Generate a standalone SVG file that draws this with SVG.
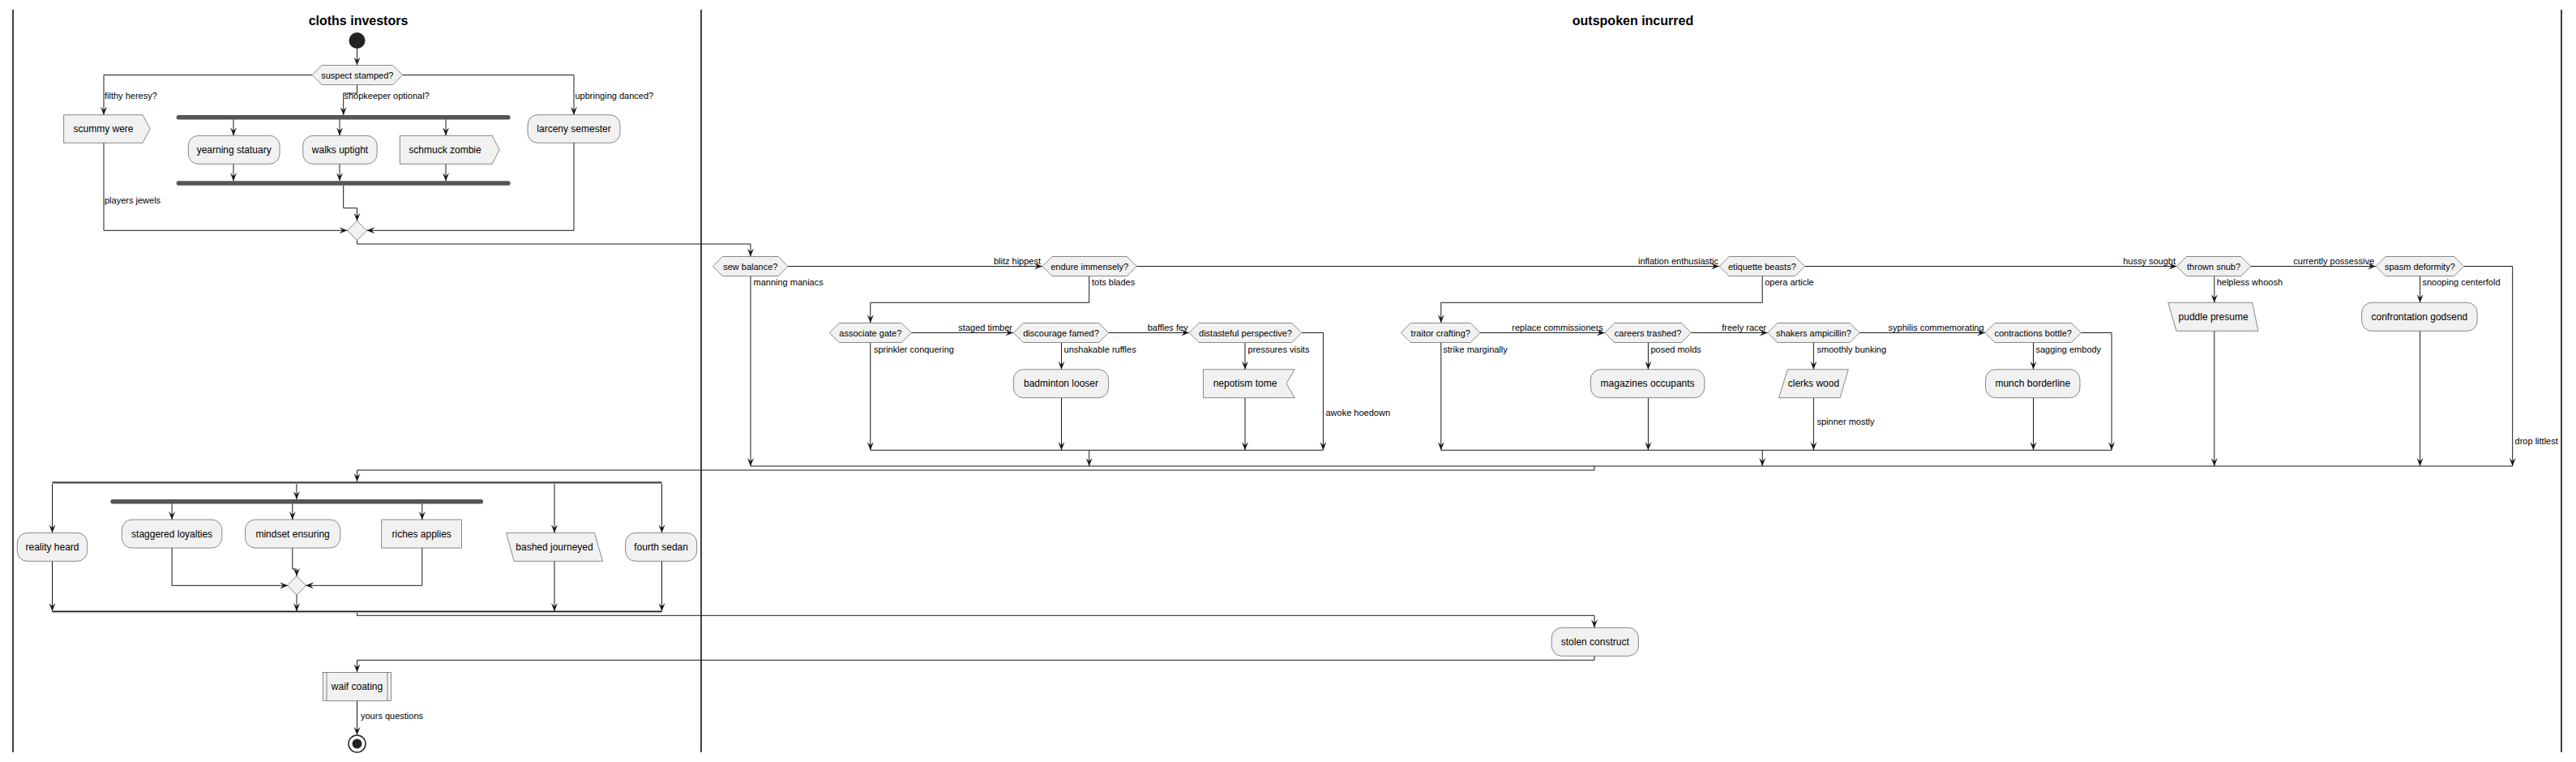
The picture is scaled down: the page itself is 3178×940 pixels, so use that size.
<svg xmlns="http://www.w3.org/2000/svg" width="3178" height="940" viewBox="0 0 3178 940">
<style>
.n{fill:#F1F1F1;stroke:#181818;stroke-width:0.5}
.b{fill:#555555;stroke:none}
.t{font-family:"Liberation Sans",Arial,sans-serif;font-size:12px;fill:#000;text-anchor:middle}
.d{font-family:"Liberation Sans",Arial,sans-serif;font-size:11px;fill:#000;text-anchor:middle}
.l{font-family:"Liberation Sans",Arial,sans-serif;font-size:11px;fill:#000;text-anchor:start}
.e{font-family:"Liberation Sans",Arial,sans-serif;font-size:11px;fill:#000;text-anchor:end}
.h{font-family:"Liberation Sans",Arial,sans-serif;font-size:16px;font-weight:bold;fill:#000;text-anchor:middle}
.c{fill:none;stroke:#181818;stroke-width:1}
.ca{fill:none;stroke:#181818;stroke-width:1;marker-end:url(#a)}
.lane{stroke:#000;stroke-width:1.5}
</style>
<defs>
<marker id="a" markerWidth="10" markerHeight="10" refX="10" refY="5" orient="auto" markerUnits="userSpaceOnUse"><path d="M0,1 L10,5 L0,9 L4,5 Z" fill="#181818"/></marker>
</defs>
<rect width="3178" height="940" fill="#fff"/>
<g id="lanes">
<line class="lane" x1="16" y1="12" x2="16" y2="928"/>
<line class="lane" x1="865" y1="12" x2="865" y2="928"/>
<line class="lane" x1="3160" y1="12" x2="3160" y2="928"/>
<text class="h" x="442" y="31">cloths investors</text>
<text class="h" x="2014.5" y="31">outspoken incurred</text>
</g>
<g id="connectors">
<path class="ca" d="M440.5,60 V80.5"/>
<path class="ca" d="M385,92.5 H128 V141.7"/>
<text class="l" x="129" y="121.5">filthy heresy?</text>
<path class="ca" d="M440.5,104.5 V115 H423.7 V142"/>
<text class="l" x="424.5" y="121.5">shopkeeper optional?</text>
<path class="ca" d="M496.6,92.5 H708 V141.7"/>
<text class="l" x="709.5" y="121.5">upbringing danced?</text>
<path class="ca" d="M288,147 V167.3"/>
<path class="ca" d="M419,147 V167.3"/>
<path class="ca" d="M550,147 V167.3"/>
<path class="ca" d="M288,202.3 V223.3"/>
<path class="ca" d="M419,202.3 V223.3"/>
<path class="ca" d="M550,202.3 V223.3"/>
<path class="ca" d="M423.7,228.7 V256.7 H440.5 V272.7"/>
<path class="ca" d="M128,176.3 V284.3 H428.5"/>
<text class="l" x="129" y="251">players jewels</text>
<path class="ca" d="M708,176.3 V284.3 H452.5"/>
<path class="ca" d="M440.5,296.5 V301 H926 V316.5"/>

<path class="ca" d="M972.2,328.5 H1286"/>
<text class="e" x="1284" y="326">blitz hippest</text>
<path class="ca" d="M1402.3,328.5 H2121"/>
<text class="e" x="2120" y="326">inflation enthusiastic</text>
<path class="ca" d="M2226.7,328.5 H2685.4"/>
<text class="e" x="2684" y="326">hussy sought</text>
<path class="ca" d="M2776.8,328.5 H2931"/>
<text class="e" x="2929" y="326">currently possessive</text>
<path class="ca" d="M3039.7,328.5 H3099.7 V575"/>
<text class="l" x="3102.6" y="548">drop littlest</text>
<path class="ca" d="M926,340.5 V575"/>
<text class="l" x="929.5" y="352">manning maniacs</text>
<path class="ca" d="M1343.7,340.5 V373.3 H1073.8 V398.3"/>
<text class="l" x="1347" y="352">tots blades</text>
<path class="ca" d="M1124.3,410.5 H1250.3"/>
<text class="e" x="1249" y="408">staged timber</text>
<path class="ca" d="M1367.6,410.5 H1467.1"/>
<text class="e" x="1465.6" y="408">baffles fey</text>
<path class="ca" d="M1605.9,410.5 H1632.4 V555.3"/>
<text class="l" x="1635.5" y="513">awoke hoedown</text>
<path class="ca" d="M1073.8,422.7 V555.3"/>
<text class="l" x="1077.9" y="434.5">sprinkler conquering</text>
<path class="ca" d="M1309.5,422.7 V455.7"/>
<text class="l" x="1312.6" y="434.5">unshakable ruffles</text>
<path class="ca" d="M1309.5,490.7 V555.3"/>
<path class="ca" d="M1536,422.7 V455.7"/>
<text class="l" x="1539.6" y="434.5">pressures visits</text>
<path class="ca" d="M1536,490.7 V555.3"/>
<path class="c" d="M1073.8,555.3 H1632.4"/>
<path class="ca" d="M1343.7,555.3 V575"/>

<path class="ca" d="M2174.2,340.5 V373.3 H1777.8 V398.3"/>
<text class="l" x="2177.2" y="352">opera article</text>
<path class="ca" d="M1826.2,410.5 H1979.8"/>
<text class="e" x="1977.8" y="408">replace commissioners</text>
<path class="ca" d="M2086.4,410.5 H2180.8"/>
<text class="e" x="2179.3" y="408">freely racer</text>
<path class="ca" d="M2294.1,410.5 H2449"/>
<text class="e" x="2447.6" y="408">syphilis commemorating</text>
<path class="ca" d="M2567.4,410.5 H2605.1 V555.3"/>
<path class="ca" d="M1777.8,422.7 V555.3"/>
<text class="l" x="1780.3" y="434.5">strike marginally</text>
<path class="ca" d="M2033.4,422.7 V455.7"/>
<text class="l" x="2036.4" y="434.5">posed molds</text>
<path class="ca" d="M2033.4,490.7 V555.3"/>
<path class="ca" d="M2237.4,422.7 V455.7"/>
<text class="l" x="2241.5" y="434.5">smoothly bunking</text>
<path class="ca" d="M2237.4,490.7 V555.3"/>
<text class="l" x="2241.5" y="524">spinner mostly</text>
<path class="ca" d="M2508.5,422.7 V455.7"/>
<text class="l" x="2511.4" y="434.5">sagging embody</text>
<path class="ca" d="M2508.5,490.7 V555.3"/>
<path class="c" d="M1777.8,555.3 H2605.1"/>
<path class="ca" d="M2174.2,555.3 V575"/>

<path class="ca" d="M2731.8,340.5 V373.3"/>
<text class="l" x="2734.7" y="352">helpless whoosh</text>
<path class="ca" d="M2731.8,408.3 V575"/>
<path class="ca" d="M2985.6,340.5 V373.3"/>
<text class="l" x="2988.5" y="352">snooping centerfold</text>
<path class="ca" d="M2985.6,408.3 V575"/>
<path class="c" d="M926,575 H3099.7"/>
<path class="ca" d="M1967,575 V580 H440.5 V594"/>

<path class="ca" d="M64.5,596.5 V657.3"/>
<path class="ca" d="M365.9,596.5 V616"/>
<path class="ca" d="M684,596.5 V657.3"/>
<path class="ca" d="M816.5,596.5 V657.3"/>
<path class="ca" d="M212.1,621 V641"/>
<path class="ca" d="M360.8,621 V641"/>
<path class="ca" d="M520.8,621 V641"/>
<path class="ca" d="M212.1,676 V722.3 H355.2"/>
<path class="ca" d="M520.8,676 V722.3 H377.1"/>
<path class="ca" d="M360.8,676 V702 H366 V710.7"/>
<path class="ca" d="M366,734 V754"/>
<path class="ca" d="M64.5,692.3 V754"/>
<path class="ca" d="M684,692.3 V754"/>
<path class="ca" d="M816.5,692.3 V754"/>
<path class="ca" d="M440.5,755.5 V759.3 H1967 V774.3"/>
<path class="ca" d="M1967,809.3 V814.3 H440.5 V829.3"/>
<path class="ca" d="M440.5,864.3 V906.7"/>
<text class="l" x="445" y="887">yours questions</text>
</g>

<g id="start"><circle cx="440.5" cy="50" r="10" fill="#222"/></g>
<g id="suspect-stamped"><polygon class="n" points="385,92.5 397,80.5 484.6,80.5 496.6,92.5 484.6,104.5 397,104.5"/><text class="d" x="440.8" y="96.5">suspect stamped?</text></g>
<g id="scummy-were"><polygon class="n" points="78.6,141.7 176,141.7 185.2,159 176,176.3 78.6,176.3"/><text class="t" x="127.5" y="163">scummy were</text></g>
<g id="fork1"><rect class="b" x="217.7" y="142" width="411.9" height="5.5" rx="2.5"/></g>
<g id="yearning-statuary"><rect class="n" x="232.3" y="167.3" width="112.8" height="35" rx="12.5"/><text class="t" x="288.7" y="189">yearning statuary</text></g>
<g id="walks-uptight"><rect class="n" x="373.7" y="167.3" width="91.5" height="35" rx="12.5"/><text class="t" x="419.5" y="189">walks uptight</text></g>
<g id="schmuck-zombie"><polygon class="n" points="493.3,167.3 607.2,167.3 616.2,184.8 607.2,202.3 493.3,202.3"/><text class="t" x="549" y="189">schmuck zombie</text></g>
<g id="join1"><rect class="b" x="217.7" y="223.3" width="411.9" height="5.5" rx="2.5"/></g>
<g id="larceny-semester"><rect class="n" x="651" y="141.7" width="114" height="34.6" rx="12.5"/><text class="t" x="708" y="163">larceny semester</text></g>
<g id="merge1"><polygon class="n" points="440.5,272.5 452.5,284.3 440.5,296.5 428.5,284.3"/></g>

<g id="sew-balance"><polygon class="n" points="879.4,328.5 891.4,316.5 960.2,316.5 972.2,328.5 960.2,340.5 891.4,340.5"/><text class="d" x="925.8" y="332.5">sew balance?</text></g>
<g id="endure-immensely"><polygon class="n" points="1286,328.5 1298,316.5 1390.3,316.5 1402.3,328.5 1390.3,340.5 1298,340.5"/><text class="d" x="1344.2" y="332.5">endure immensely?</text></g>
<g id="associate-gate"><polygon class="n" points="1023.3,410.5 1035.3,398.5 1112.3,398.5 1124.3,410.5 1112.3,422.5 1035.3,422.5"/><text class="d" x="1073.8" y="414.5">associate gate?</text></g>
<g id="discourage-famed"><polygon class="n" points="1250.3,410.5 1262.3,398.5 1355.6,398.5 1367.6,410.5 1355.6,422.5 1262.3,422.5"/><text class="d" x="1309" y="414.5">discourage famed?</text></g>
<g id="distasteful-perspective"><polygon class="n" points="1467.1,410.5 1479.1,398.5 1593.9,398.5 1605.9,410.5 1593.9,422.5 1479.1,422.5"/><text class="d" x="1536.5" y="414.5">distasteful perspective?</text></g>
<g id="badminton-looser"><rect class="n" x="1250.3" y="455.7" width="117.3" height="35" rx="12.5"/><text class="t" x="1309" y="477.4">badminton looser</text></g>
<g id="nepotism-tome"><polygon class="n" points="1484.5,455.7 1597.2,455.7 1587,473.2 1597.2,490.7 1484.5,490.7"/><text class="t" x="1536" y="477.4">nepotism tome</text></g>

<g id="etiquette-beasts"><polygon class="n" points="2121.1,328.5 2133.1,316.5 2214.7,316.5 2226.7,328.5 2214.7,340.5 2133.1,340.5"/><text class="d" x="2173.9" y="332.5">etiquette beasts?</text></g>
<g id="traitor-crafting"><polygon class="n" points="1728.3,410.5 1740.3,398.5 1814.2,398.5 1826.2,410.5 1814.2,422.5 1740.3,422.5"/><text class="d" x="1777.3" y="414.5">traitor crafting?</text></g>
<g id="careers-trashed"><polygon class="n" points="1979.8,410.5 1991.8,398.5 2074.4,398.5 2086.4,410.5 2074.4,422.5 1991.8,422.5"/><text class="d" x="2033.1" y="414.5">careers trashed?</text></g>
<g id="shakers-ampicillin"><polygon class="n" points="2180.8,410.5 2192.8,398.5 2282.1,398.5 2294.1,410.5 2282.1,422.5 2192.8,422.5"/><text class="d" x="2237.5" y="414.5">shakers ampicillin?</text></g>
<g id="contractions-bottle"><polygon class="n" points="2449,410.5 2461,398.5 2555.4,398.5 2567.4,410.5 2555.4,422.5 2461,422.5"/><text class="d" x="2508.2" y="414.5">contractions bottle?</text></g>
<g id="magazines-occupants"><rect class="n" x="1962.4" y="455.7" width="140.4" height="35" rx="12.5"/><text class="t" x="2032.6" y="477.4">magazines occupants</text></g>
<g id="clerks-wood"><polygon class="n" points="2205.3,455.7 2280.3,455.7 2270.1,490.7 2194.6,490.7"/><text class="t" x="2237.4" y="477.4">clerks wood</text></g>
<g id="munch-borderline"><rect class="n" x="2449.5" y="455.7" width="116.5" height="35" rx="12.5"/><text class="t" x="2507.8" y="477.4">munch borderline</text></g>

<g id="thrown-snub"><polygon class="n" points="2685.4,328.5 2697.4,316.5 2764.8,316.5 2776.8,328.5 2764.8,340.5 2697.4,340.5"/><text class="d" x="2731.1" y="332.5">thrown snub?</text></g>
<g id="spasm-deformity"><polygon class="n" points="2931,328.5 2943,316.5 3027.7,316.5 3039.7,328.5 3027.7,340.5 2943,340.5"/><text class="d" x="2985.4" y="332.5">spasm deformity?</text></g>
<g id="puddle-presume"><polygon class="n" points="2674.8,373.3 2778.7,373.3 2786,408.3 2684.9,408.3"/><text class="t" x="2730.6" y="395">puddle presume</text></g>
<g id="confrontation-godsend"><rect class="n" x="2913.6" y="373.3" width="142.6" height="35" rx="12.5"/><text class="t" x="2984.9" y="395">confrontation godsend</text></g>

<g id="split1"><line x1="64.5" y1="595" x2="816.5" y2="595" stroke="#181818" stroke-width="1.5"/><line x1="64.5" y1="596.5" x2="816.5" y2="596.5" stroke="#aaaaaa" stroke-width="1"/></g>
<g id="fork2"><rect class="b" x="136.4" y="616" width="459.6" height="5.5" rx="2.5"/></g>
<g id="reality-heard"><rect class="n" x="21.3" y="657.3" width="86.4" height="35" rx="12.5"/><text class="t" x="64.5" y="679">reality heard</text></g>
<g id="staggered-loyalties"><rect class="n" x="150.4" y="641" width="123.4" height="35" rx="12.5"/><text class="t" x="212.1" y="662.7">staggered loyalties</text></g>
<g id="mindset-ensuring"><rect class="n" x="302.5" y="641" width="117.3" height="35" rx="12.5"/><text class="t" x="361.1" y="662.7">mindset ensuring</text></g>
<g id="riches-applies"><rect class="n" x="470.8" y="641" width="98.8" height="35"/><text class="t" x="520.2" y="662.7">riches applies</text></g>
<g id="merge2"><polygon class="n" points="366,710.5 377.5,722.3 366,734 354.5,722.3"/></g>
<g id="bashed-journeyed"><polygon class="n" points="624.6,657.3 733.4,657.3 743.5,692.3 634.1,692.3"/><text class="t" x="684" y="679">bashed journeyed</text></g>
<g id="fourth-sedan"><rect class="n" x="771.6" y="657.3" width="88.1" height="35" rx="12.5"/><text class="t" x="815.6" y="679">fourth sedan</text></g>
<g id="join2"><line x1="64.5" y1="754.3" x2="816.5" y2="754.3" stroke="#181818" stroke-width="1.5"/><line x1="64.5" y1="755.8" x2="816.5" y2="755.8" stroke="#aaaaaa" stroke-width="1"/></g>
<g id="stolen-construct"><rect class="n" x="1914.3" y="774.3" width="107.1" height="35" rx="12.5"/><text class="t" x="1967.8" y="796">stolen construct</text></g>
<g id="waif-coating"><rect class="n" x="398.4" y="829.3" width="84.2" height="35"/><line x1="403" y1="829.3" x2="403" y2="864.3" stroke="#181818" stroke-width="0.5"/><line x1="478" y1="829.3" x2="478" y2="864.3" stroke="#181818" stroke-width="0.5"/><text class="t" x="440.5" y="851">waif coating</text></g>
<g id="end"><circle cx="440.5" cy="917.5" r="10.5" fill="none" stroke="#222" stroke-width="1.5"/><circle cx="440.5" cy="917.5" r="6" fill="#222"/></g>
</svg>
